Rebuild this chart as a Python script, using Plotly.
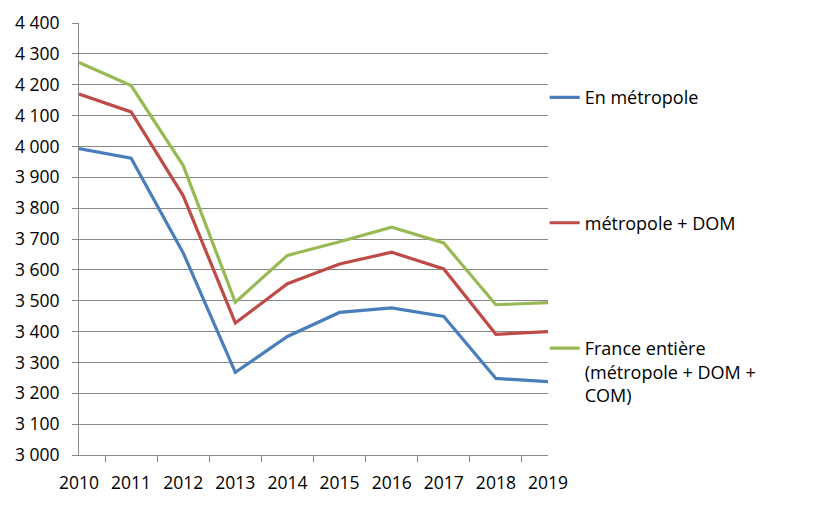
import plotly.graph_objects as go

years = ["2010", "2011", "2012", "2013", "2014", "2015", "2016", "2017", "2018", "2019"]
metropole = [3993, 3962, 3655, 3268, 3384, 3462, 3477, 3449, 3248, 3238]
metro_dom = [4170, 4112, 3840, 3428, 3555, 3619, 3657, 3603, 3391, 3400]
france_entiere = [4272, 4197, 3938, 3495, 3647, 3691, 3738, 3687, 3487, 3494]

names = ["En métropole", "métropole + DOM", "France entière<br>(métropole + DOM +<br>COM)"]
colors = ["#4A7EBB", "#BE4B48", "#98B954"]
series = [metropole, metro_dom, france_entiere]

fig = go.Figure()
for i, (nm, col, vals) in enumerate(zip(names, colors, series)):
    fig.add_trace(go.Scatter(
        x=years, y=vals, mode="lines", name=nm,
        line=dict(color=col, width=3.2),
        legendgroup=f"g{i}",
    ))

fig.update_layout(
    width=812, height=500,
    margin=dict(l=71, r=272, t=15, b=53),
    paper_bgcolor="white", plot_bgcolor="white",
    font=dict(family="Open Sans, Calibri, sans-serif", size=17.5, color="#000000"),
    separators=", ",
    showlegend=True,
    legend=dict(
        x=0.993, xanchor="left", y=0.87, yanchor="top",
        traceorder="grouped", tracegroupgap=99,
        font=dict(size=18, color="#000000"),
        valign="top", bgcolor="rgba(0,0,0,0)",
    ),
)
fig.update_xaxes(
    type="category", tickson="boundaries", ticks="outside", ticklen=6,
    tickcolor="#878787", showline=True, linecolor="#878787", linewidth=1,
    showgrid=False, tickangle=0, tickfont=dict(size=17.5), ticklabelstandoff=12,
    automargin=False,
)
fig.update_yaxes(
    range=[3000, 4400], dtick=100, tick0=3000, tickformat=",d",
    ticks="outside", ticklen=6, tickcolor="#878787",
    showline=True, linecolor="#878787", linewidth=1,
    showgrid=True, gridcolor="#878787", gridwidth=1,
    zeroline=False, tickfont=dict(size=17.5), ticklabelstandoff=9,
    automargin=False,
)

fig.write_html("out.html")
